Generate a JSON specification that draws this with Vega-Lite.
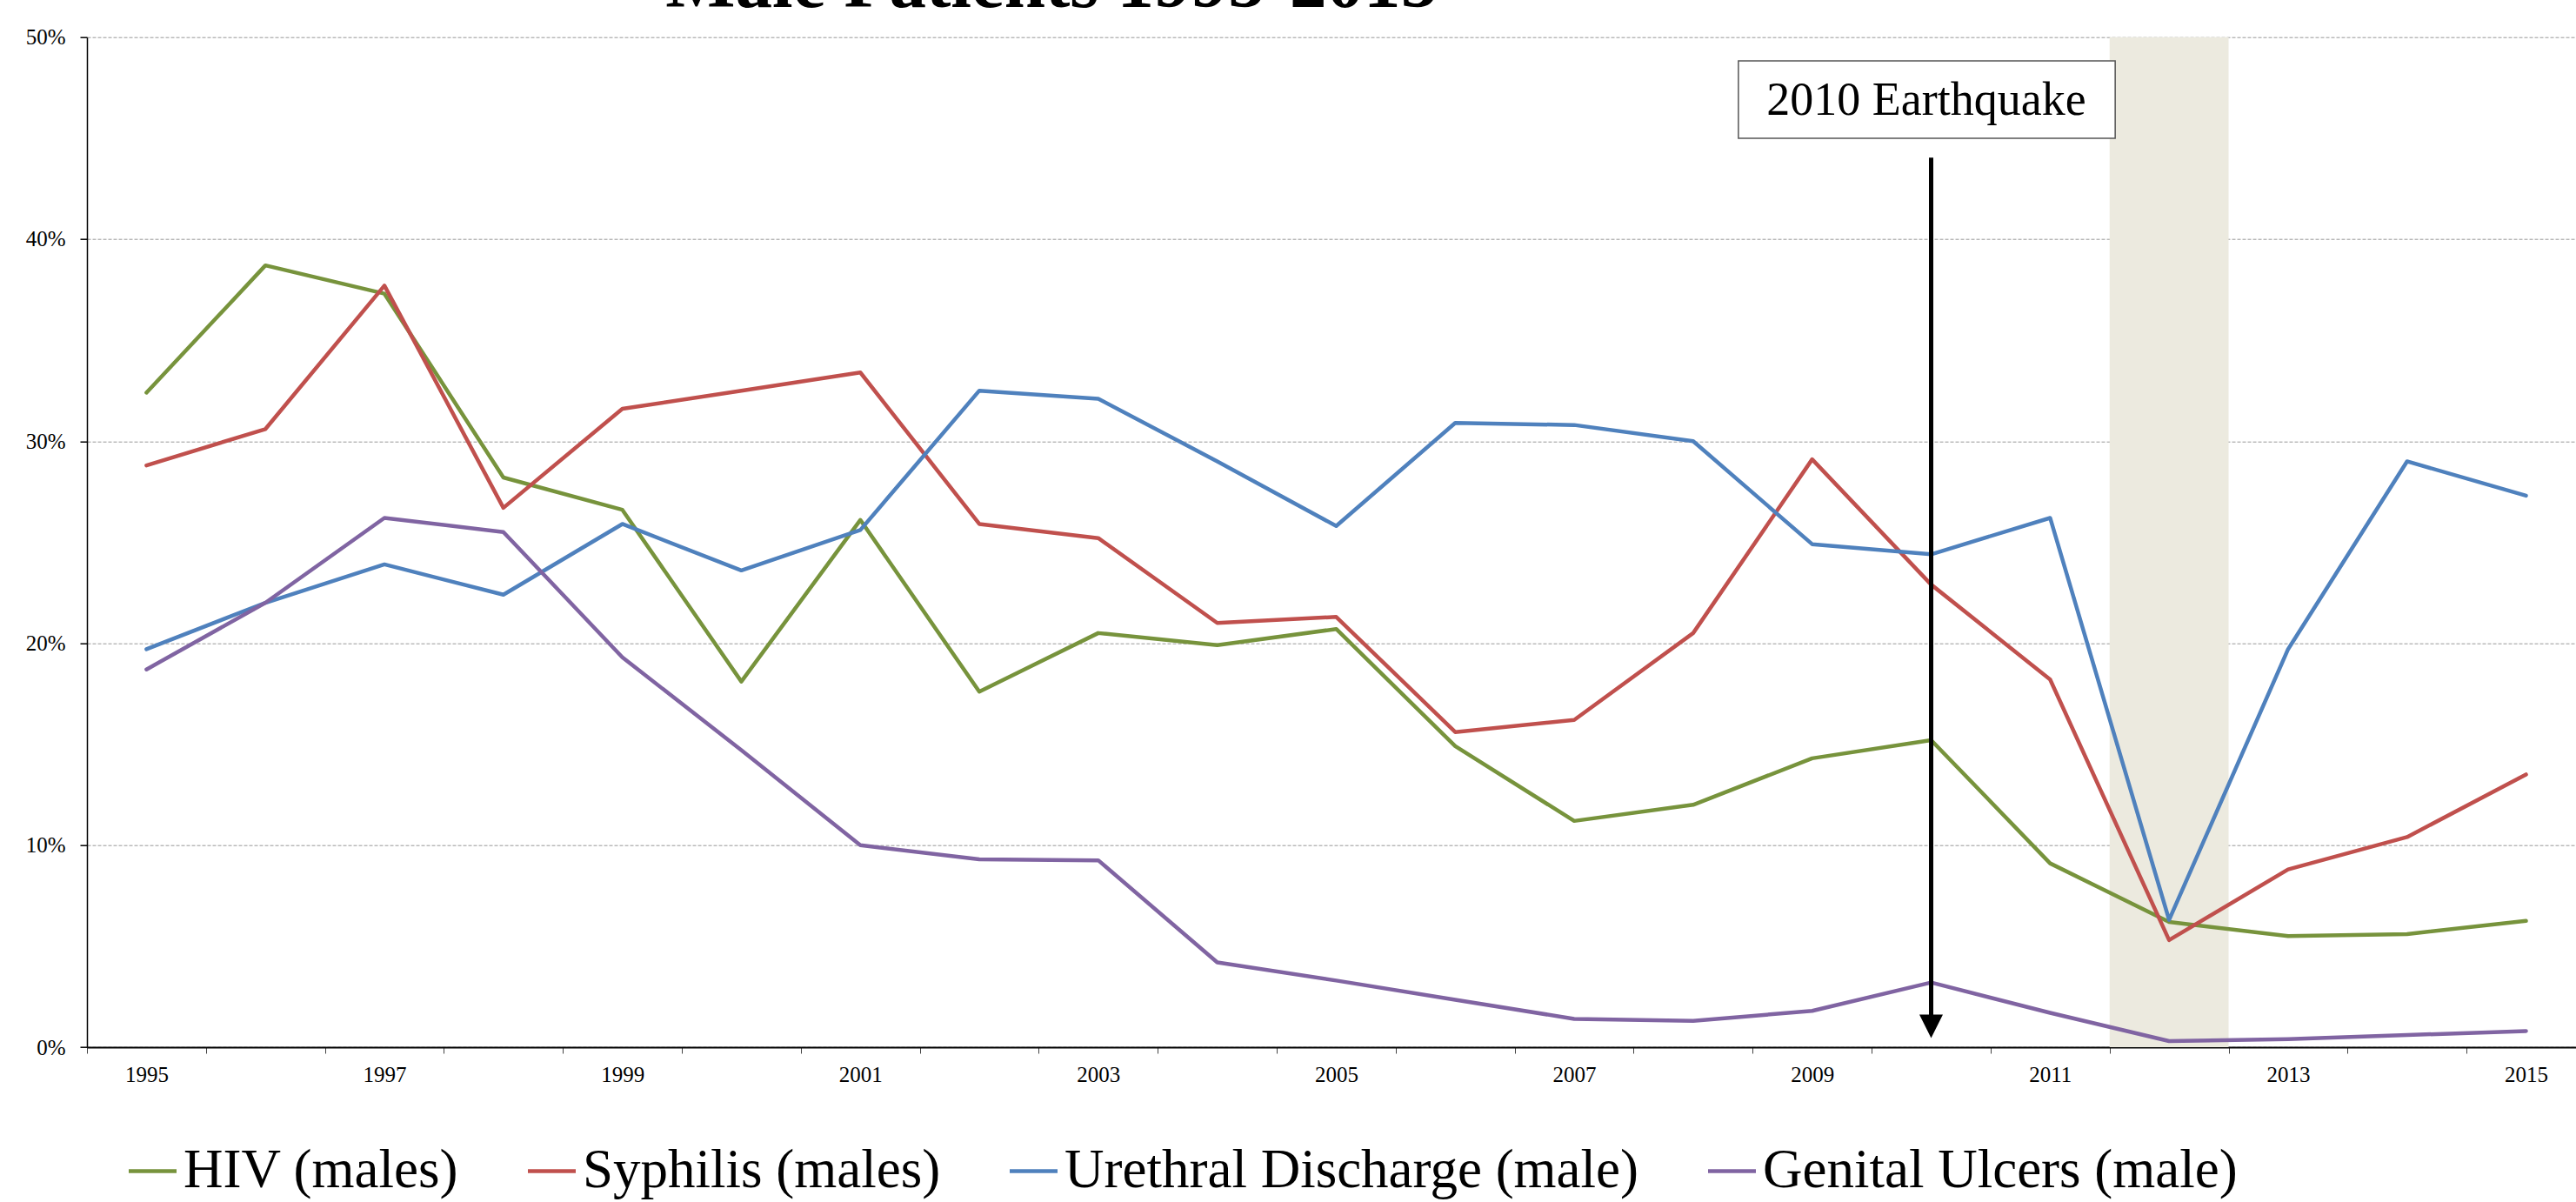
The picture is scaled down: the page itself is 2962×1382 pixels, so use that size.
{
  "$schema": "https://vega.github.io/schema/vega-lite/v6.json",
  "width": 2862,
  "height": 1161.3,
  "autosize": {"type": "none"},
  "padding": {"left": 100, "top": 42.7, "right": 0, "bottom": 178},
  "background": "white",
  "config": {"view": {"stroke": null}, "font": "Liberation Serif"},
  "datasets": {
    "series": [
      {"year":1995,"series":"HIV (males)","value":0.324},{"year":1996,"series":"HIV (males)","value":0.387},{"year":1997,"series":"HIV (males)","value":0.373},{"year":1998,"series":"HIV (males)","value":0.282},{"year":1999,"series":"HIV (males)","value":0.266},{"year":2000,"series":"HIV (males)","value":0.181},{"year":2001,"series":"HIV (males)","value":0.261},{"year":2002,"series":"HIV (males)","value":0.176},{"year":2003,"series":"HIV (males)","value":0.205},{"year":2004,"series":"HIV (males)","value":0.199},{"year":2005,"series":"HIV (males)","value":0.207},{"year":2006,"series":"HIV (males)","value":0.149},{"year":2007,"series":"HIV (males)","value":0.112},{"year":2008,"series":"HIV (males)","value":0.120},{"year":2009,"series":"HIV (males)","value":0.143},{"year":2010,"series":"HIV (males)","value":0.152},{"year":2011,"series":"HIV (males)","value":0.091},{"year":2012,"series":"HIV (males)","value":0.062},{"year":2013,"series":"HIV (males)","value":0.055},{"year":2014,"series":"HIV (males)","value":0.056},{"year":2015,"series":"HIV (males)","value":0.0625},
      {"year":1995,"series":"Syphilis (males)","value":0.288},{"year":1996,"series":"Syphilis (males)","value":0.306},{"year":1997,"series":"Syphilis (males)","value":0.377},{"year":1998,"series":"Syphilis (males)","value":0.267},{"year":1999,"series":"Syphilis (males)","value":0.316},{"year":2000,"series":"Syphilis (males)","value":0.325},{"year":2001,"series":"Syphilis (males)","value":0.334},{"year":2002,"series":"Syphilis (males)","value":0.259},{"year":2003,"series":"Syphilis (males)","value":0.252},{"year":2004,"series":"Syphilis (males)","value":0.210},{"year":2005,"series":"Syphilis (males)","value":0.213},{"year":2006,"series":"Syphilis (males)","value":0.156},{"year":2007,"series":"Syphilis (males)","value":0.162},{"year":2008,"series":"Syphilis (males)","value":0.205},{"year":2009,"series":"Syphilis (males)","value":0.291},{"year":2010,"series":"Syphilis (males)","value":0.229},{"year":2011,"series":"Syphilis (males)","value":0.182},{"year":2012,"series":"Syphilis (males)","value":0.053},{"year":2013,"series":"Syphilis (males)","value":0.088},{"year":2014,"series":"Syphilis (males)","value":0.104},{"year":2015,"series":"Syphilis (males)","value":0.135},
      {"year":1995,"series":"Urethral Discharge (male)","value":0.197},{"year":1996,"series":"Urethral Discharge (male)","value":0.220},{"year":1997,"series":"Urethral Discharge (male)","value":0.239},{"year":1998,"series":"Urethral Discharge (male)","value":0.224},{"year":1999,"series":"Urethral Discharge (male)","value":0.259},{"year":2000,"series":"Urethral Discharge (male)","value":0.236},{"year":2001,"series":"Urethral Discharge (male)","value":0.256},{"year":2002,"series":"Urethral Discharge (male)","value":0.325},{"year":2003,"series":"Urethral Discharge (male)","value":0.321},{"year":2004,"series":"Urethral Discharge (male)","value":0.290},{"year":2005,"series":"Urethral Discharge (male)","value":0.258},{"year":2006,"series":"Urethral Discharge (male)","value":0.309},{"year":2007,"series":"Urethral Discharge (male)","value":0.308},{"year":2008,"series":"Urethral Discharge (male)","value":0.300},{"year":2009,"series":"Urethral Discharge (male)","value":0.249},{"year":2010,"series":"Urethral Discharge (male)","value":0.244},{"year":2011,"series":"Urethral Discharge (male)","value":0.262},{"year":2012,"series":"Urethral Discharge (male)","value":0.063},{"year":2013,"series":"Urethral Discharge (male)","value":0.197},{"year":2014,"series":"Urethral Discharge (male)","value":0.290},{"year":2015,"series":"Urethral Discharge (male)","value":0.273},
      {"year":1995,"series":"Genital Ulcers (male)","value":0.187},{"year":1996,"series":"Genital Ulcers (male)","value":0.220},{"year":1997,"series":"Genital Ulcers (male)","value":0.262},{"year":1998,"series":"Genital Ulcers (male)","value":0.255},{"year":1999,"series":"Genital Ulcers (male)","value":0.193},{"year":2000,"series":"Genital Ulcers (male)","value":0.147},{"year":2001,"series":"Genital Ulcers (male)","value":0.100},{"year":2002,"series":"Genital Ulcers (male)","value":0.093},{"year":2003,"series":"Genital Ulcers (male)","value":0.0925},{"year":2004,"series":"Genital Ulcers (male)","value":0.042},{"year":2005,"series":"Genital Ulcers (male)","value":0.033},{"year":2006,"series":"Genital Ulcers (male)","value":0.0235},{"year":2007,"series":"Genital Ulcers (male)","value":0.014},{"year":2008,"series":"Genital Ulcers (male)","value":0.013},{"year":2009,"series":"Genital Ulcers (male)","value":0.018},{"year":2010,"series":"Genital Ulcers (male)","value":0.032},{"year":2011,"series":"Genital Ulcers (male)","value":0.017},{"year":2012,"series":"Genital Ulcers (male)","value":0.003},{"year":2013,"series":"Genital Ulcers (male)","value":0.004},{"year":2014,"series":"Genital Ulcers (male)","value":0.006},{"year":2015,"series":"Genital Ulcers (male)","value":0.008}
    ]
  },
  "resolve": {"scale": {"x": "independent"}, "axis": {"x": "independent"}},
  "layer": [
    {
      "data": {"values": [{"period": "2012"}]},
      "mark": {"type": "rect", "color": "#ECEADF"},
      "encoding": {
        "x": {"datum": 2011.5, "type": "quantitative", "scale": {"domain": [1994.5, 2015.42], "nice": false, "zero": false}, "axis": null},
        "x2": {"datum": 2012.5},
        "y": {"datum": 0, "type": "quantitative"},
        "y2": {"datum": 0.5}
      }
    },
    {
      "data": {"values": [{"tick": "band edges"}]},
      "mark": {"type": "rule", "opacity": 0},
      "encoding": {
        "x": {
          "datum": 2000, "type": "quantitative",
          "scale": {"domain": [1994.5, 2015.42], "nice": false, "zero": false},
          "axis": {
            "orient": "bottom",
            "values": [1994.5,1995.5,1996.5,1997.5,1998.5,1999.5,2000.5,2001.5,2002.5,2003.5,2004.5,2005.5,2006.5,2007.5,2008.5,2009.5,2010.5,2011.5,2012.5,2013.5,2014.5],
            "labels": false,
            "domain": false,
            "grid": false,
            "ticks": true,
            "tickColor": "#444",
            "tickSize": 7,
            "tickWidth": 1,
            "title": null
          }
        }
      }
    },
    {
      "data": {"name": "series"},
      "mark": {"type": "line", "strokeWidth": 4.5, "strokeCap": "round", "strokeJoin": "round"},
      "encoding": {
        "x": {
          "field": "year", "type": "quantitative",
          "scale": {"domain": [1994.5, 2015.42], "nice": false, "zero": false},
          "axis": {
            "orient": "bottom",
            "values": [1995, 1997, 1999, 2001, 2003, 2005, 2007, 2009, 2011, 2013, 2015],
            "format": "d",
            "labelFlush": false,
            "labelOverlap": false,
            "labelFont": "Liberation Serif",
            "labelFontSize": 25,
            "labelColor": "black",
            "labelPadding": 19,
            "ticks": false,
            "grid": false,
            "domainColor": "black",
            "domainWidth": 2,
            "title": null
          }
        },
        "y": {
          "field": "value", "type": "quantitative",
          "scale": {"domain": [0, 0.5], "nice": false},
          "axis": {
            "values": [0, 0.1, 0.2, 0.3, 0.4, 0.5],
            "format": ".0%",
            "grid": true,
            "gridColor": "#999",
            "gridDash": [4, 2],
            "gridWidth": 1,
            "domainColor": "black",
            "domainWidth": 1.5,
            "tickColor": "black",
            "tickSize": 8,
            "tickWidth": 1.5,
            "labelFont": "Liberation Serif",
            "labelFontSize": 25,
            "labelColor": "black",
            "labelPadding": 17,
            "title": null
          }
        },
        "color": {
          "field": "series", "type": "nominal",
          "sort": ["HIV (males)", "Syphilis (males)", "Urethral Discharge (male)", "Genital Ulcers (male)"],
          "scale": {
            "domain": ["HIV (males)", "Syphilis (males)", "Urethral Discharge (male)", "Genital Ulcers (male)"],
            "range": ["#77933C", "#C0504D", "#4F81BD", "#8064A2"]
          },
          "legend": {
            "orient": "none",
            "legendX": 44,
            "legendY": 1272,
            "direction": "horizontal",
            "title": null,
            "symbolType": "stroke",
            "symbolSize": 3025,
            "symbolStrokeWidth": 4.5,
            "labelFont": "Liberation Serif",
            "labelFontSize": 63,
            "labelColor": "black",
            "labelOffset": 4,
            "labelLimit": 0,
            "columnPadding": 70
          }
        }
      }
    },
    {
      "data": {"values": [{"note": "2010 Earthquake"}]},
      "layer": [
        {
          "mark": {"type": "rect", "fill": "white", "stroke": "#555", "strokeWidth": 1.5},
          "encoding": {
            "x": {"datum": 2008.38, "type": "quantitative", "scale": {"domain": [1994.5, 2015.42], "nice": false, "zero": false}, "axis": null},
            "x2": {"datum": 2011.547},
            "y": {"datum": 0.4882, "type": "quantitative"},
            "y2": {"datum": 0.4499}
          }
        },
        {
          "mark": {"type": "text", "font": "Liberation Serif", "fontSize": 54, "align": "center", "baseline": "alphabetic", "color": "black"},
          "encoding": {
            "x": {"datum": 2009.96, "type": "quantitative", "axis": null},
            "y": {"datum": 0.4615, "type": "quantitative"},
            "text": {"field": "note"}
          }
        },
        {
          "mark": {"type": "rule", "color": "black", "strokeWidth": 5},
          "encoding": {
            "x": {"datum": 2010, "type": "quantitative", "axis": null},
            "y": {"datum": 0.4404, "type": "quantitative"},
            "y2": {"datum": 0.0146}
          }
        },
        {
          "mark": {"type": "point", "shape": "M-1,-1L1,-1L0,1Z", "filled": true, "color": "black", "opacity": 1, "size": 729},
          "encoding": {
            "x": {"datum": 2010, "type": "quantitative", "axis": null},
            "y": {"datum": 0.0103, "type": "quantitative"}
          }
        }
      ]
    },
    {
      "data": {"values": [{"title": "Male Patients 1995-2015"}]},
      "mark": {"type": "text", "font": "Liberation Serif", "fontSize": 85, "fontWeight": "bold", "align": "center", "baseline": "alphabetic", "color": "black"},
      "encoding": {
        "x": {"datum": 2002.607, "type": "quantitative", "scale": {"domain": [1994.5, 2015.42], "nice": false, "zero": false}, "axis": null},
        "y": {"datum": 0.5150, "type": "quantitative"},
        "text": {"field": "title"}
      }
    }
  ]
}
